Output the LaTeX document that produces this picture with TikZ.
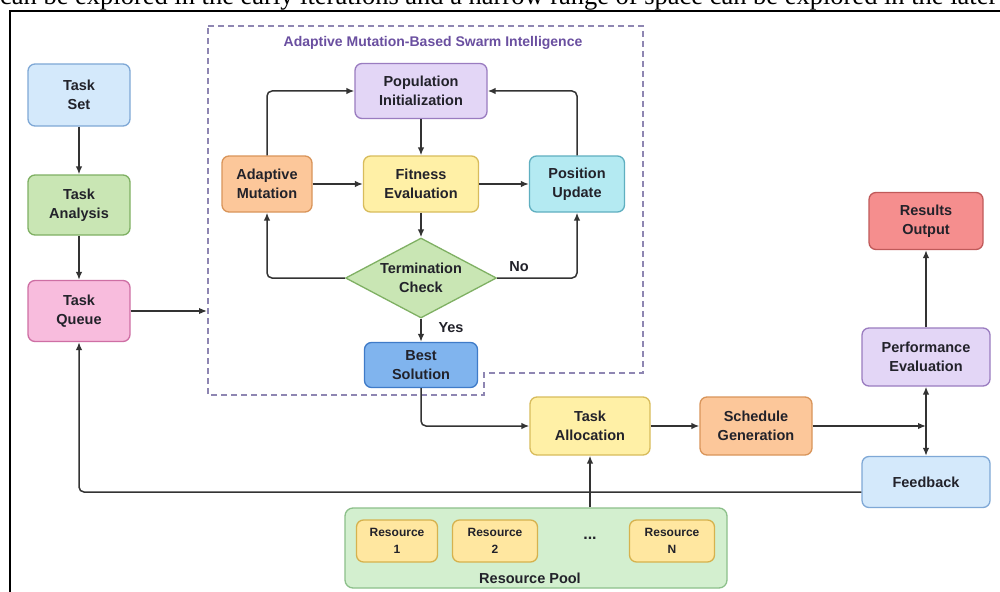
\documentclass[tikz,border=0pt]{standalone}
\usepackage{fontspec}
\usepackage{graphicx}
\setmainfont{Liberation Sans}
\newfontfamily\serifx{Liberation Serif}
\usetikzlibrary{shapes.geometric,arrows.meta}
\definecolor{lineC}{HTML}{333333}
\definecolor{tsF}{HTML}{D4E9FB}\definecolor{tsD}{HTML}{7FA8D6}
\definecolor{gF}{HTML}{C9E6B4}\definecolor{gD}{HTML}{7FB063}
\definecolor{pkF}{HTML}{F8BCDD}\definecolor{pkD}{HTML}{CE6FA4}
\definecolor{orF}{HTML}{FCC79A}\definecolor{orD}{HTML}{D9955A}
\definecolor{yeF}{HTML}{FFF0A6}\definecolor{yeD}{HTML}{D8BC5C}
\definecolor{cyF}{HTML}{B4EAF2}\definecolor{cyD}{HTML}{5FAFC0}
\definecolor{puF}{HTML}{E3D6F6}\definecolor{puD}{HTML}{9A7CC0}
\definecolor{buF}{HTML}{80B4EE}\definecolor{buD}{HTML}{3F7BC8}
\definecolor{rdF}{HTML}{F58E8E}\definecolor{rdD}{HTML}{C05A5A}
\definecolor{poF}{HTML}{D3EFCF}\definecolor{poD}{HTML}{8CC08A}
\definecolor{reF}{HTML}{FFE7A0}\definecolor{reD}{HTML}{D6B24E}
\definecolor{dashC}{HTML}{8E86B2}
\definecolor{titleC}{HTML}{6A4FA0}
\definecolor{txtC}{HTML}{22222A}
\begin{document}
\begin{tikzpicture}[x=1pt,y=-1pt,
  box/.style={draw, rounded corners=7pt, line width=1.3pt, align=center,
    font=\fontsize{14.5}{19}\selectfont\bfseries, text=txtC, inner sep=2pt},
  lbl/.style={font=\fontsize{14.5}{19}\selectfont\bfseries, text=txtC, align=center, inner sep=1pt},
  conn/.style={draw=lineC, line width=1.5pt, -{Latex[length=8pt,width=6.5pt]}},
  resbox/.style={box, fill=reF, draw=reD, minimum height=42pt, font=\fontsize{12}{17}\selectfont\bfseries}
]
\useasboundingbox (0,0) rectangle (1000,591);
\fill[white] (0,0) rectangle (1000,591);
% top cut text line
\node[anchor=base west, inner sep=0] (topline) at (0,5)
  {\resizebox{997pt}{!}{\serifx\fontsize{24}{24}\selectfont can be explored in the early iterations and a narrow range of space can be explored in the later}};
% frame
\draw[line width=1.6pt, black] (10,600) -- (10,11) -- (1010,11);

% dashed group
\draw[dashC, line width=1.3pt, dash pattern=on 6pt off 4pt]
  (208,26) -- (643,26) -- (643,373) -- (484,373) -- (484,395) -- (208,395) -- cycle;
\node[font=\fontsize{14}{17}\selectfont\bfseries, text=titleC] (title) at (433,43) {Adaptive Mutation-Based Swarm Intelligence};
\coordinate (boxL) at (207,311);

% left column
\node[box, fill=tsF, draw=tsD, minimum width=102pt, minimum height=62pt] (tset) at (79,95) {Task\\Set};
\node[box, fill=gF, draw=gD, minimum width=102pt, minimum height=60pt] (tana) at (79,205) {Task\\Analysis};
\node[box, fill=pkF, draw=pkD, minimum width=102pt, minimum height=61pt] (tque) at (79,311) {Task\\Queue};

% swarm loop
\node[box, fill=puF, draw=puD, minimum width=132pt, minimum height=55pt] (pop) at (421,91) {Population\\Initialization};
\node[box, fill=orF, draw=orD, minimum width=90pt, minimum height=56pt] (amut) at (267,184) {Adaptive\\Mutation};
\node[box, fill=yeF, draw=yeD, minimum width=115pt, minimum height=56pt] (fit) at (421,184) {Fitness\\Evaluation};
\node[box, fill=cyF, draw=cyD, minimum width=95pt, minimum height=56pt] (pos) at (577,184) {Position\\Update};
\node[diamond, draw=gD, fill=gF, line width=1.3pt, minimum width=151pt, minimum height=80pt, inner sep=0pt, aspect=1.9] (term) at (421,278) {};
\node[lbl] (termT) at (term.center) {Termination\\Check};
\node[box, fill=buF, draw=buD, minimum width=113pt, minimum height=45pt] (best) at (421,365) {Best\\Solution};
\node[lbl] (no) at (519,267) {No};
\node[lbl] (yes) at (451,328) {Yes};

% lower flow
\node[box, fill=yeF, draw=yeD, minimum width=120pt, minimum height=58pt] (alloc) at (590,426) {Task\\Allocation};
\node[box, fill=orF, draw=orD, minimum width=112pt, minimum height=58pt] (sched) at (756,426) {Schedule\\Generation};
\node[box, fill=puF, draw=puD, minimum width=128pt, minimum height=58pt] (perf) at (926,357) {Performance\\Evaluation};
\node[box, fill=rdF, draw=rdD, minimum width=114pt, minimum height=57pt] (res) at (926,221) {Results\\Output};
\node[box, fill=tsF, draw=tsD, minimum width=128pt, minimum height=51pt] (feed) at (926,482) {Feedback};
\coordinate (junc) at (926,426);

% resource pool
\node[draw=poD, fill=poF, rounded corners=8pt, line width=1.3pt, minimum width=382pt, minimum height=80pt] (pool) at (536,548) {};
\node[resbox, minimum width=81pt] (r1) at (397,541) {Resource\\1};
\node[resbox, minimum width=85pt] (r2) at (495,541) {Resource\\2};
\node[resbox, minimum width=85pt] (rn) at (672,541) {Resource\\N};
\node[lbl, font=\fontsize{16}{19}\selectfont\bfseries] (dots) at (590,538) {...};
\node[lbl] (poolT) at (530,578) {Resource Pool};

% connectors
\draw[conn] (tset) -- (tana);
\draw[conn] (tana) -- (tque);
\draw[conn] (tque.east) -- (boxL);
\draw[conn] (pop) -- (fit);
\draw[conn] (amut) -- (fit);
\draw[conn] (fit) -- (pos);
\draw[conn] (fit) -- (term);
\draw[conn] (term) -- (best);
\draw[conn, rounded corners=5pt] (amut.north) |- (pop.west);
\draw[conn, rounded corners=5pt] (pos.north) |- (pop.east);
\draw[conn, rounded corners=5pt] (term.west) -| (amut.south);
\draw[conn, rounded corners=5pt] (term.east) -| (pos.south);
\draw[conn, rounded corners=5pt] (best.south) |- (alloc.west);
\draw[conn] (alloc) -- (sched);
\draw[conn] (sched.east) -- (junc);
\draw[conn] (junc) -- (perf.south);
\draw[conn] (junc) -- (feed.north);
\draw[conn] (perf) -- (res);
\draw[conn, rounded corners=5pt] ([yshift=-10pt]feed.west) -| (tque.south);
\draw[conn] (alloc.south |- pool.north) -- (alloc.south);
\end{tikzpicture}
\end{document}
